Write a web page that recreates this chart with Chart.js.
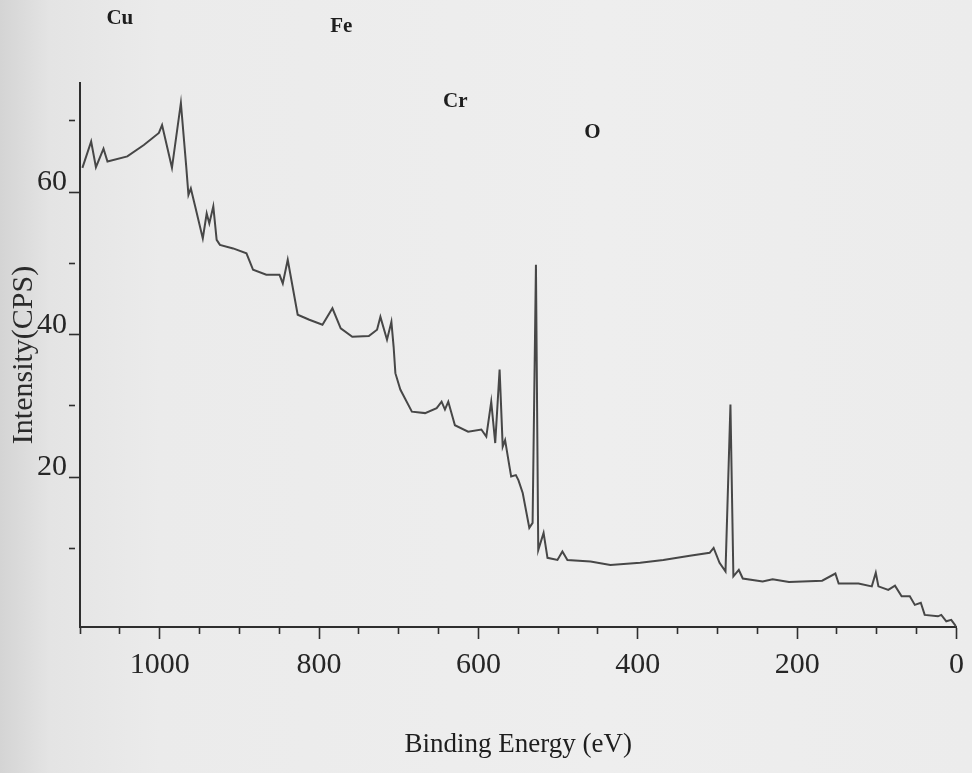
<!DOCTYPE html>
<html>
<head>
<meta charset="utf-8">
<title>XPS survey spectrum</title>
<script src="https://cdn.jsdelivr.net/npm/chart.js@4"></script>
<style>
  html, body {
    margin: 0;
    padding: 0;
  }
  body {
    width: 972px;
    height: 773px;
    overflow: hidden;
    background: linear-gradient(to right, #d4d4d4 0px, #e4e4e4 50px, #ebebeb 160px, #eeeeee 600px, #ececec 972px);
  }
  #wrap {
    position: relative;
    width: 972px;
    height: 773px;
  }
</style>
</head>
<body>
<div id="wrap"><canvas id="myChart"></canvas></div>
<script>
// binding energy (eV)
const BINDING_ENERGY = [
  1097, 1086, 1080, 1070.5, 1065.5, 1040.6, 1019.9, 1001, 997, 984.6,
  973.4, 966.7, 963.9, 960.9, 955.5, 945.9, 941, 937.7, 932.7, 928.5,
  924.4, 907.8, 891.1, 882.8, 866.2, 849.6, 845.5, 839.3, 826.8, 812.2,
  795.7, 783.2, 772.8, 758.3, 737.5, 727.2, 723, 714.7, 709.2, 706.4,
  704.2, 698, 683.5, 666.9, 652.4, 646.2, 642, 637.8, 629.5, 612.9,
  596.3, 590.1, 583.9, 578.9, 573.4, 569.5, 566.5, 561, 558.9, 553,
  549.8, 544.4, 536.1, 532, 527.8, 524.9, 518.2, 513.3, 500.8, 494.6,
  488.3, 459.3, 434.4, 397, 367.9, 334.7, 309.8, 304.8, 297.4, 289.9,
  283.7, 280, 273.2, 268.2, 243.3, 230.8, 210.2, 168.6, 152, 147.9,
  123, 106.3, 101.3, 98, 85.6, 77.2, 68.9, 58.6, 52.3, 44.8,
  39.9, 23.3, 19.1, 12.8, 6.6, 0,
];

// intensity (CPS)
const INTENSITY = [
  63.4, 67.1, 63.5, 66.1, 64.3, 65.0, 66.6, 68.3, 69.4, 63.4,
  72.5, 63.6, 59.6, 60.5, 58.0, 53.5, 57.0, 55.6, 58.0, 53.3,
  52.6, 52.1, 51.4, 49.1, 48.4, 48.4, 47.2, 50.5, 42.8, 42.1,
  41.4, 43.7, 40.9, 39.7, 39.8, 40.7, 42.5, 39.3, 41.8, 38.3,
  34.6, 32.3, 29.2, 29.0, 29.7, 30.6, 29.5, 30.6, 27.3, 26.4,
  26.7, 25.7, 30.6, 24.8, 35.1, 24.3, 25.2, 21.5, 20.1, 20.3,
  19.6, 17.8, 12.9, 13.6, 49.8, 9.8, 12.2, 8.7, 8.4, 9.6,
  8.4, 8.2, 7.7, 8.0, 8.4, 9.0, 9.4, 10.1, 8.0, 6.8,
  30.2, 6.1, 7.0, 5.8, 5.4, 5.7, 5.3, 5.5, 6.5, 5.1,
  5.1, 4.7, 6.6, 4.7, 4.2, 4.8, 3.3, 3.3, 2.1, 2.4,
  0.7, 0.5, 0.7, -0.2, 0, -1,
];

// axis ticks
const X_LABEL_VALUES = [0, 200, 400, 600, 800, 1000];
const X_MINOR_STEP = 50;
const Y_TICK_VALUES = [10, 20, 30, 40, 50, 60, 70];
const Y_LABEL_VALUES = [20, 40, 60];

// element annotations above the curve
const ELEMENT_NAMES = ["Cu", "Fe", "Cr", "O"];
const ELEMENT_ENERGY = [1050, 772, 629, 457];
const ELEMENT_HEIGHT = [84.3, 83.2, 72.7, 68.3];

const INK = "#2e2e2e";
const SERIF = "'Liberation Serif', 'Times New Roman', serif";

// element names drawn on the data scales
const elementLabels = {
  id: "elementLabels",
  afterDraw: (chart) => {
    const { ctx, scales } = chart;
    ctx.save();
    ctx.font = "bold 21px " + SERIF;
    ctx.fillStyle = "#1e1e1e";
    ctx.textAlign = "center";
    ctx.textBaseline = "middle";
    ELEMENT_NAMES.forEach((name, i) => {
      ctx.fillText(
        name,
        scales.x.getPixelForValue(ELEMENT_ENERGY[i]),
        scales.y.getPixelForValue(ELEMENT_HEIGHT[i])
      );
    });
    ctx.restore();
  },
};

const ctx = document.getElementById("myChart").getContext("2d");

const chart = new Chart(ctx, {
  type: "line",
  data: {
    datasets: [
      {
        label: "Survey",
        data: BINDING_ENERGY.map((e, i) => ({ x: e, y: INTENSITY[i] })),
        borderColor: "#474747",
        borderWidth: 2,
        pointRadius: 0,
        tension: 0,
        fill: false,
      },
    ],
  },
  options: {
    responsive: true,
    maintainAspectRatio: false,
    animation: false,
    layout: {
      padding: { top: 83, right: 10, bottom: 8, left: 0 },
    },
    plugins: {
      legend: { display: false },
      tooltip: { enabled: false },
    },
    scales: {
      x: {
        type: "linear",
        reverse: true,
        min: 0,
        max: 1100,
        border: { display: true, color: INK, width: 2 },
        grid: {
          display: true,
          drawOnChartArea: false,
          drawTicks: true,
          tickLength: 12,
          tickColor: INK,
          tickWidth: 1.6,
          tickBorderDash: (c) =>
            X_LABEL_VALUES.includes(c.tick.value) ? [] : [6, 30],
        },
        ticks: {
          stepSize: X_MINOR_STEP,
          autoSkip: false,
          maxRotation: 0,
          padding: 8,
          color: "#262626",
          font: { family: SERIF, size: 30 },
          callback: (v) => (X_LABEL_VALUES.includes(v) ? String(v) : ""),
        },
        title: {
          display: true,
          text: "Binding Energy (eV)",
          color: "#1e1e1e",
          font: { family: SERIF, size: 27 },
          padding: { top: 0, bottom: 4 },
        },
        afterFit: (scale) => {
          scale.height = 138;
        },
      },
      y: {
        min: -1,
        max: 75.3,
        border: { display: true, color: INK, width: 2 },
        grid: {
          display: true,
          drawOnChartArea: false,
          drawTicks: true,
          tickLength: 11,
          tickColor: INK,
          tickWidth: 1.6,
          tickBorderDash: (c) =>
            Y_LABEL_VALUES.includes(c.tick.value) ? [] : [6, 30],
        },
        afterBuildTicks: (axis) => {
          axis.ticks = Y_TICK_VALUES.map((v) => ({ value: v }));
        },
        ticks: {
          padding: 2,
          labelOffset: -10,
          color: "#262626",
          font: { family: SERIF, size: 30 },
          callback: (v) => (Y_LABEL_VALUES.includes(v) ? String(v) : ""),
        },
        title: {
          display: true,
          text: "Intensity(CPS)",
          color: "#2a2a2a",
          font: { family: SERIF, size: 30 },
          padding: { top: 6, bottom: 0 },
        },
        afterFit: (scale) => {
          scale.width = 80;
        },
      },
    },
  },
  plugins: [elementLabels],
});
</script>
</body>
</html>
